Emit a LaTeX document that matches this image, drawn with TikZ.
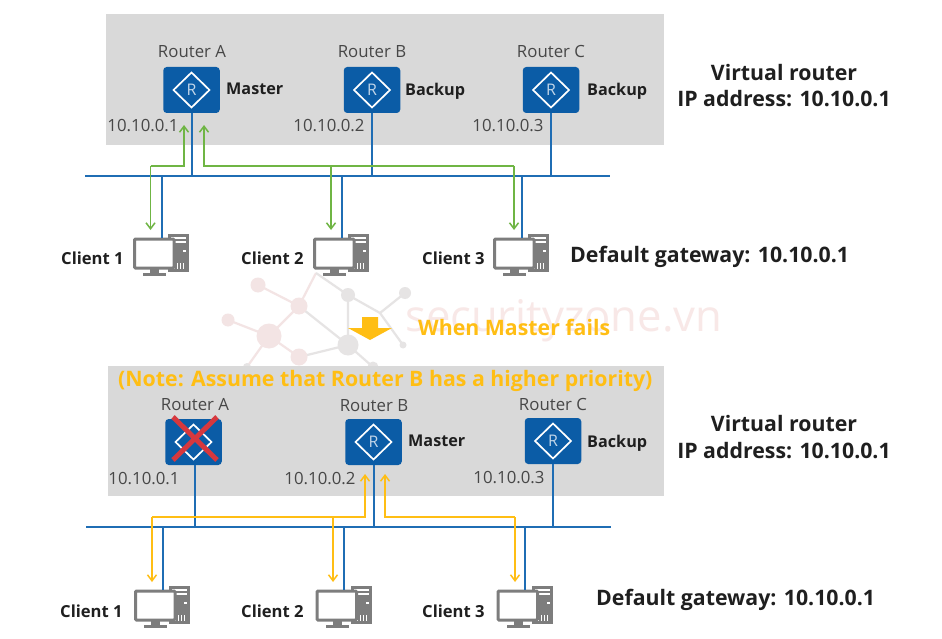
\documentclass[tikz,border=0pt]{standalone}
\usepackage{fontspec}
\setmainfont{Open Sans}
\usetikzlibrary{arrows.meta}
\definecolor{panelgrey}{HTML}{D9D9D9}
\definecolor{lanblue}{HTML}{1F6DB4}
\definecolor{routerblue}{HTML}{0B5CA6}
\definecolor{flowgreen}{HTML}{6FB544}
\definecolor{flowamber}{HTML}{FFBE14}
\definecolor{pcgrey}{HTML}{7D7D7D}
\definecolor{marknode}{HTML}{F3E4E4}
\definecolor{markgrey}{HTML}{E6E4E4}
\definecolor{marktext}{HTML}{F8E8E7}
\tikzset{
  panel/.style={fill=panelgrey,draw=none},
  lan/.style={draw=lanblue,line width=2pt},
  greenflow/.style={draw=flowgreen,line width=1.5pt,-{Straight Barb[length=6pt,width=9pt,line width=1.5pt]}},
  amberflow/.style={draw=flowamber,line width=1.5pt,-{Straight Barb[length=6pt,width=9pt,line width=1.5pt]}},
  routerbox/.style={fill=routerblue,draw=none,rounded corners=3.5pt,minimum width=56.5pt,minimum height=46pt,inner sep=0pt},
  pcbox/.style={draw=none,minimum width=57pt,minimum height=43pt,inner sep=0pt},
  plainlabel/.style={text=black!72,font=\fontsize{16.8}{19}\selectfont,inner sep=0pt},
  rolelabel/.style={text=black!88,font=\fontsize{16.2}{18}\selectfont\bfseries,inner sep=0pt,anchor=west},
  clientlabel/.style={text=black!88,font=\fontsize{16.6}{18}\selectfont\bfseries,inner sep=0pt,anchor=west},
  sidelabel/.style={text=black!88,font=\fontsize{21.3}{24}\selectfont\bfseries,inner sep=0pt},
  amberlabel/.style={text=flowamber,font=\fontsize{21.3}{24}\selectfont\bfseries,inner sep=0pt,anchor=west},
  marklink/.style={line width=2.2pt},
}
% Router block: rounded square with the white diamond emblem
\newcommand{\routerblock}[4]{%
  \node[routerbox] (#1) at (#2,#3) {};
  \draw[white,line width=1.7pt,line join=miter] (#2-18,#3) -- (#2,#3-17.5) -- (#2+18,#3) -- (#2,#3+17.5) -- cycle;
  \node[text=white!75!routerblue,font=\fontsize{16}{16}\selectfont,inner sep=0pt] at (#2,#3) {#4};
}
% Desktop computer: tower behind a monitor with stand
\newcommand{\desktop}[3]{%
  \node[pcbox] (#1) at (#2,#3) {};
  \begin{scope}[shift={(#2-28.5,#3-21.5)}]
    \fill[pcgrey] (35,1) rectangle (56,39);
    \fill[white] (38,4) rectangle (53,6);
    \fill[white] (38,8) rectangle (53,9.5);
    \fill[white] (50,17) rectangle (53,19);
    \foreach \dx in {41,44,47,50}{\fill[white] (\dx,30) rectangle (\dx+1.2,36);}
    \fill[white,draw=pcgrey,line width=3pt,rounded corners=1pt] (1.5,6) rectangle (41,35);
    \fill[pcgrey] (17,36) rectangle (26,40);
    \fill[pcgrey] (10,40) rectangle (33,43);
  \end{scope}
}
\begin{document}
\begin{tikzpicture}[x=1pt,y=-1pt]
\useasboundingbox (0,0) rectangle (942,639);
\fill[white] (0,0) rectangle (942,639);

% Faint network emblem and site name behind the drawing
\coordinate (w1) at (258,285);
\coordinate (w2) at (299,306);
\coordinate (w3) at (228,320);
\coordinate (w4) at (269,336);
\coordinate (w5) at (299,357);
\coordinate (w6) at (348,295);
\coordinate (w7) at (405,293);
\coordinate (w8) at (348,345);
\coordinate (w9) at (403,345);
\coordinate (w10) at (247,367);
\coordinate (w11) at (373,367);
\coordinate (w12) at (380,313);
\coordinate (w13) at (316,273);
\draw[marknode,marklink] (w1)--(w2) (w3)--(w4) (w4)--(w2) (w4)--(w5) (w4)--(w10) (w2)--(w13);
\draw[markgrey,marklink] (w5)--(w8) (w2)--(w8) (w13)--(w6) (w6)--(w12) (w12)--(w7) (w12)--(w9) (w6)--(w8) (w8)--(w11);
\foreach \p/\r in {w1/7.5,w2/8.5,w3/6.5,w4/12.5,w5/8.5}{\fill[marknode] (\p) circle (\r pt);}
\foreach \p/\r in {w6/7,w7/6,w8/10.5,w9/3.5,w10/4,w11/5.5}{\fill[markgrey] (\p) circle (\r pt);}
\node[text=marktext,font=\fontsize{43.6}{46}\selectfont,inner sep=0pt,anchor=west] (wm) at (405,321) {securityzone.vn};

% Panels
\fill[panel] (106,14) rectangle (664,145);
\fill[panel] (108,366) rectangle (664,496);

% ---- Upper network ----
\coordinate (busAw) at (85,176);
\coordinate (busAe) at (610,176);
\routerblock{ra}{191.5}{90}{R}
\routerblock{rb}{372}{90}{R}
\routerblock{rc}{551}{90}{R}
\desktop{ca}{161.5}{254.5}
\desktop{cb}{341.5}{254.5}
\desktop{cc}{521.5}{254.5}
\draw[lan] (busAw) -- (busAe);
\foreach \r in {ra,rb,rc}{\draw[lan] (\r.south) -- (\r.south |- busAw);}
\coordinate (cat) at (162,238);
\coordinate (cbt) at (342,238);
\coordinate (cct) at (522,238);
\draw[lan] (cat |- busAw) -- (cat);
\draw[lan] (cbt |- busAw) -- (cbt);
\draw[lan] (cct |- busAw) -- (cct);

% Traffic to Router A
\coordinate (gA1) at (184,125);
\coordinate (gA2) at (204,125);
\coordinate (gT1) at (150.5,230);
\coordinate (gT2) at (331,230);
\coordinate (gT3) at (514,230);
\coordinate (gBusL) at (150.5,166);
\coordinate (gBusR) at (514,166);
\draw[greenflow] (gBusL) -- (gBusL -| gA1) -- (gA1);
\draw[greenflow] (gBusL) -- (gT1);
\draw[greenflow] (gBusR) -- (gBusR -| gA2) -- (gA2);
\draw[greenflow] (gBusR) -- (gT3);
\draw[greenflow] (gBusR -| gT2) -- (gT2);

% ---- Lower network ----
\coordinate (busBw) at (86,527);
\coordinate (busBe) at (611,527);
\routerblock{rd}{193.5}{442}{}
\routerblock{re}{373.5}{442}{R}
\routerblock{rf}{553}{441}{R}
\desktop{cd}{162.5}{606.5}
\desktop{ce}{344}{606.5}
\desktop{cf}{525}{606.5}
\draw[lan] (busBw) -- (busBe);
\draw[lan] (rd.south -| 195,0) -- (195,527);
\draw[lan] (re.south) -- (re.south |- busBw);
\draw[lan] (rf.south) -- (rf.south |- busBw);
\coordinate (cdt) at (163,590);
\coordinate (cet) at (344,590);
\coordinate (cft) at (525,590);
\draw[lan] (cdt |- busBw) -- (cdt);
\draw[lan] (cet |- busBw) -- (cet);
\draw[lan] (cft |- busBw) -- (cft);

% Failed router marker
\coordinate (xa) at (173,417);
\coordinate (xb) at (217,460);
\coordinate (xc) at (217,417);
\coordinate (xd) at (173,460);
\draw[draw={rgb,255:red,214;green,56;blue,62},line width=5pt] (xa) -- (xb) (xc) -- (xd);

% Traffic to Router B
\coordinate (yA1) at (365,474);
\coordinate (yA2) at (385,474);
\coordinate (yT1) at (152,582);
\coordinate (yT2) at (333,582);
\coordinate (yT3) at (515,582);
\coordinate (yBusL) at (152,517);
\coordinate (yBusR) at (515,517);
\draw[amberflow] (yBusL) -- (yBusL -| yA1) -- (yA1);
\draw[amberflow] (yBusL) -- (yT1);
\draw[amberflow] (yBusR) -- (yBusR -| yA2) -- (yA2);
\draw[amberflow] (yBusR) -- (yT3);
\draw[amberflow] (yBusR -| yT2) -- (yT2);

% Labels, upper panel
\node[plainlabel] (la) at (192,52) {Router A};
\node[plainlabel] (lb) at (372,52) {Router B};
\node[plainlabel] (lc) at (551,52) {Router C};
\node[rolelabel] (ma) at (226,89) {Master};
\node[rolelabel] (mb) at (405,91) {Backup};
\node[rolelabel] (mc) at (587,91) {Backup};
\node[plainlabel] (ia) at (143,126) {10.10.0.1};
\node[plainlabel] (ib) at (329,126) {10.10.0.2};
\node[plainlabel] (ic) at (508,126) {10.10.0.3};
\node[sidelabel] (va1) at (784,73) {Virtual router};
\node[sidelabel] (va2) at (784,99) {IP address: 10.10.0.1};
\node[clientlabel] (na) at (61,258) {Client 1};
\node[clientlabel] (nb) at (241,258) {Client 2};
\node[clientlabel] (nc) at (422,258) {Client 3};
\node[sidelabel,anchor=west] (dg1) at (570,257) {Default gateway: 10.10.0.1};

% Transition arrow
\fill[flowamber] (362,317) -- (378,317) -- (378,328) -- (392,328) -- (370,340) -- (348,328) -- (362,328) -- cycle;
\node[amberlabel] (fail) at (418,327) {When Master fails};
\node[amberlabel] (note) at (118,381) {(Note: Assume that Router B has a higher priority)};

% Labels, lower panel
\node[plainlabel] (ld) at (195,405) {Router A};
\node[plainlabel] (le) at (374,406) {Router B};
\node[plainlabel] (lf) at (553,404) {Router C};
\node[rolelabel] (me) at (408,441) {Master};
\node[rolelabel] (mf) at (587,443) {Backup};
\node[plainlabel] (id) at (144,479) {10.10.0.1};
\node[plainlabel] (ie) at (320,479) {10.10.0.2};
\node[plainlabel] (if) at (509,478) {10.10.0.3};
\node[sidelabel] (vb1) at (784,424) {Virtual router};
\node[sidelabel] (vb2) at (784,451) {IP address: 10.10.0.1};
\node[clientlabel] (nd) at (60,611) {Client 1};
\node[clientlabel] (ne) at (241,611) {Client 2};
\node[clientlabel] (nf) at (422,611) {Client 3};
\node[sidelabel,anchor=west] (dg2) at (596,600) {Default gateway: 10.10.0.1};
\end{tikzpicture}
\end{document}
